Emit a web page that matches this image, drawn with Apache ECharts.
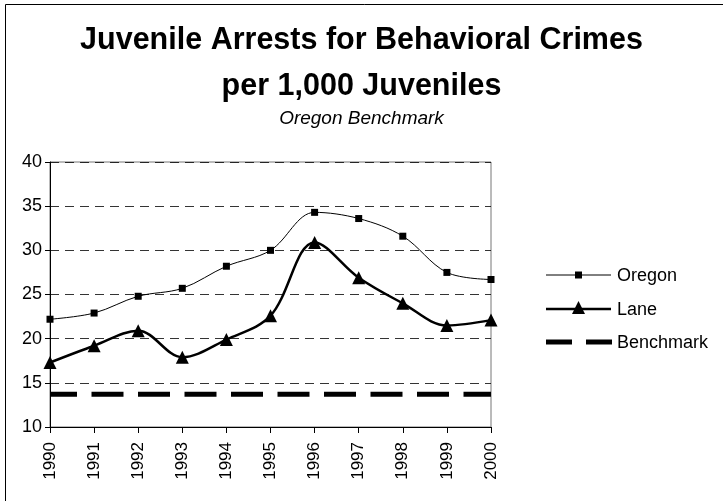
<!DOCTYPE html>
<html>
<head>
<meta charset="utf-8">
<script src="https://cdn.jsdelivr.net/npm/echarts@6/dist/echarts.min.js"></script>
<style>
  html, body { margin: 0; padding: 0; background: #fff; }
  #chart { width: 723px; height: 501px; }
</style>
</head>
<body>
<div id="chart"></div>
<script>
// Juvenile arrests for behavioral crimes, per 1,000 juveniles
const years = ['1990','1991','1992','1993','1994','1995','1996','1997','1998','1999','2000'];
const oregon = [22.2, 22.9, 24.8, 25.7, 28.2, 30.0, 34.3, 33.6, 31.6, 27.5, 26.7];
const lane = [17.3, 19.2, 20.9, 17.9, 19.9, 22.6, 30.9, 26.9, 24.0, 21.5, 22.1];
const benchmarkValue = 13.7;
const benchmark = years.map(() => benchmarkValue);
const seriesNames = ['Oregon', 'Lane', 'Benchmark'];
const yTicks = { min: 10, max: 40, interval: 5 };

const font = '"Liberation Sans", Arial, sans-serif';
const chart = echarts.init(document.getElementById('chart'), null, { renderer: 'canvas' });

// Legend keys drawn as graphics so each key shows its series' own stroke
const legendX = 546, legendW = 65, legendTextX = 617;
const legendRows = [275, 309, 342];
const legendGraphics = [];
// Oregon: thin line with small square
legendGraphics.push(
  { type: 'line', shape: { x1: legendX, y1: legendRows[0], x2: legendX + legendW, y2: legendRows[0] },
    style: { stroke: '#000', lineWidth: 1 } },
  { type: 'rect', shape: { x: legendX + legendW / 2 - 3.5, y: legendRows[0] - 3.5, width: 7, height: 7 },
    style: { fill: '#000' } }
);
// Lane: thick line with triangle
legendGraphics.push(
  { type: 'line', shape: { x1: legendX, y1: legendRows[1], x2: legendX + legendW, y2: legendRows[1] },
    style: { stroke: '#000', lineWidth: 2.5 } },
  { type: 'polygon', shape: { points: [
      [legendX + legendW / 2, legendRows[1] - 8],
      [legendX + legendW / 2 - 6.5, legendRows[1] + 5],
      [legendX + legendW / 2 + 6.5, legendRows[1] + 5]] },
    style: { fill: '#000' } }
);
// Benchmark: heavy dashes
legendGraphics.push(
  { type: 'line', shape: { x1: legendX, y1: legendRows[2], x2: legendX + 26, y2: legendRows[2] },
    style: { stroke: '#000', lineWidth: 5 } },
  { type: 'line', shape: { x1: legendX + 40, y1: legendRows[2], x2: legendX + 66, y2: legendRows[2] },
    style: { stroke: '#000', lineWidth: 5 } }
);
seriesNames.forEach((name, i) => {
  legendGraphics.push({
    type: 'text',
    x: legendTextX, y: legendRows[i] + 1,
    style: { text: name, fill: '#000', font: '18px ' + font, textVerticalAlign: 'middle', textAlign: 'left' }
  });
});

chart.setOption({
  animation: false,
  backgroundColor: '#fff',
  textStyle: { fontFamily: font, color: '#000' },
  graphic: [{
    type: 'rect',
    shape: { x: 5.5, y: 4.5, width: 740, height: 600 },
    style: { fill: 'none', stroke: '#000', lineWidth: 1 },
    silent: true
  }].concat(legendGraphics),
  title: [{
    text: 'Juvenile Arrests for Behavioral Crimes\nper 1,000 Juveniles',
    left: 'center',
    top: 13,
    textStyle: { fontFamily: font, fontSize: 30.5, fontWeight: 'bold', color: '#000', lineHeight: 46 }
  }, {
    text: 'Oregon Benchmark',
    left: 'center',
    top: 104,
    textStyle: { fontFamily: font, fontSize: 19, fontWeight: 'normal', fontStyle: 'italic', color: '#000' }
  }],
  grid: { left: 50, right: 232, top: 162, bottom: 74, show: true, borderColor: '#777', borderWidth: 1 },
  xAxis: {
    type: 'category',
    data: years,
    boundaryGap: false,
    axisLine: { lineStyle: { color: '#000', width: 1 } },
    axisTick: { show: true, alignWithLabel: true, length: 6, lineStyle: { color: '#000' } },
    axisLabel: { rotate: 90, fontSize: 17, color: '#000', fontFamily: font, margin: 15 },
    splitLine: { show: false }
  },
  yAxis: {
    type: 'value',
    min: yTicks.min,
    max: yTicks.max,
    interval: yTicks.interval,
    axisLine: { show: true, lineStyle: { color: '#000', width: 1 } },
    axisTick: { show: true, length: 5, lineStyle: { color: '#000' } },
    axisLabel: { fontSize: 18, color: '#000', fontFamily: font, margin: 8 },
    splitLine: { show: true, lineStyle: { color: '#000', type: [9, 6], width: 0.8 } }
  },
  series: [{
    name: seriesNames[0],
    type: 'line',
    data: oregon,
    smooth: 0.35,
    symbol: 'rect',
    symbolSize: 7,
    lineStyle: { color: '#000', width: 1 },
    itemStyle: { color: '#000', borderWidth: 0 },
    z: 3
  }, {
    name: seriesNames[1],
    type: 'line',
    data: lane,
    smooth: 0.35,
    symbol: 'triangle',
    symbolSize: 13,
    lineStyle: { color: '#000', width: 2.5 },
    itemStyle: { color: '#000', borderWidth: 0 },
    z: 4
  }, {
    name: seriesNames[2],
    type: 'line',
    data: benchmark,
    symbol: 'none',
    lineStyle: { color: '#000', width: 5, type: [32, 14.5], dashOffset: 5 },
    itemStyle: { color: '#000' },
    z: 2
  }]
});
</script>
</body>
</html>
